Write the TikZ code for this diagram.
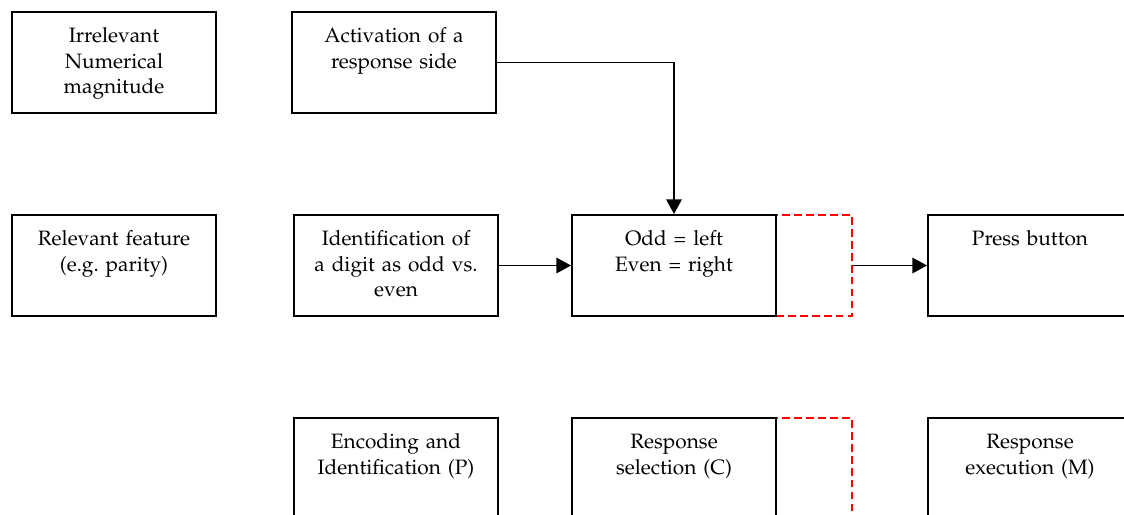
\documentclass[tikz,border=0pt]{standalone}
\usepackage[T1]{fontenc}
\usepackage{mathpazo}
\usetikzlibrary{arrows.meta, positioning}
\definecolor{boxblack}{RGB}{0, 0, 0}
\definecolor{dashred}{RGB}{255, 0, 0}

\tikzset{
    stagebox/.style={draw=boxblack, line width=1.3pt, rectangle, inner sep=0pt,
        minimum width=5.1cm, minimum height=2.525cm, text width=5.1cm, align=center,
        text height=22pt, text depth=49.8pt, font=\fontsize{14.8}{18.1}\selectfont},
    slackbox/.style={draw=dashred, line width=1.3pt, dash pattern=on 5.5pt off 3pt,
        rectangle, inner sep=0pt, minimum width=1.9cm, minimum height=2.525cm},
    flow/.style={line width=1.4pt, -{Triangle[length=10.5pt, width=11pt]}}
}

\begin{document}
\begin{tikzpicture}
    \clip (0,0) rectangle (28.1,-12.875);

    % obere Reihe
    \node[stagebox] (irr) at (2.85,-1.5625) {Irrelevant\\Numerical\\magnitude};
    \node[stagebox] (act) at (9.85,-1.5625) {Activation of a\\response side};

    % mittlere Reihe
    \node[slackbox] (slacktop) at (20.35,-6.6375) {};
    \node[stagebox] (rel) at (2.85,-6.6375) {Relevant feature\\(e.g.\ parity)};
    \node[stagebox] (ident) at (9.9,-6.6375) {Identification of\\a digit as odd vs.\\even};
    \node[stagebox] (odd) at (16.85,-6.6375) {Odd = left\\Even = right};
    \node[stagebox] (press) at (25.75,-6.6375) {Press button};

    % untere Reihe (Stufen)
    \node[slackbox] (slackbot) at (20.35,-11.7125) {};
    \node[stagebox] (enc) at (9.9,-11.7125) {Encoding and\\Identification (P)};
    \node[stagebox] (sel) at (16.85,-11.7125) {Response\\selection (C)};
    \node[stagebox] (exec) at (25.75,-11.7125) {Response\\execution (M)};

    % Pfeile
    \draw[flow] (act.east) -| (odd.north);
    \draw[flow] (ident.east) -- (odd.west);
    \draw[flow] (slacktop.east) -- (press.west);
\end{tikzpicture}
\end{document}
